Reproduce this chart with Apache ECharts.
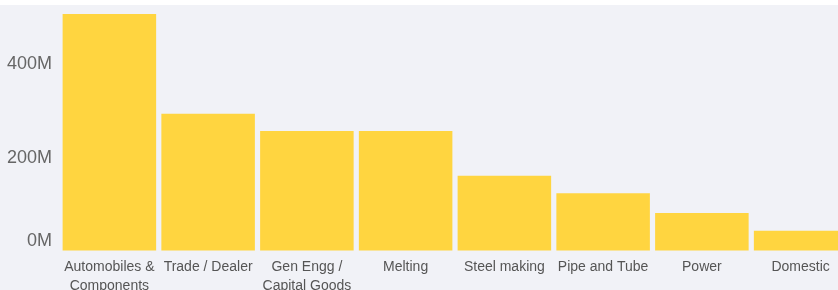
<!DOCTYPE html>
<html>
<head>
<meta charset="utf-8">
<script src="https://cdn.jsdelivr.net/npm/echarts@6/dist/echarts.min.js"></script>
<style>
  html, body { margin: 0; padding: 0; overflow: hidden; background: #fff; }
  #chart {
    width: 850px;
    height: 290px;
    background: linear-gradient(#ffffff 0, #ffffff 5px, #f1f2f7 5px);
  }
</style>
</head>
<body>
<div id="chart"></div>
<script>
// data
const categories = ['Automobiles &\nComponents', 'Trade / Dealer', 'Gen Engg /\nCapital Goods', 'Melting',
  'Steel making', 'Pipe and Tube', 'Power', 'Domestic'];
const values = [503e6, 291e6, 254e6, 254e6, 159e6, 122e6, 80e6, 42e6];

const chart = echarts.init(document.getElementById('chart'));
const option = {
  backgroundColor: 'transparent',
  grid: {
    left: 60,
    right: 0,
    top: 6,
    bottom: 39.5,
    outerBoundsMode: 'none',
    containLabel: false,
  },
  xAxis: {
    type: 'category',
    data: categories,
    axisLine: { show: false },
    axisTick: { show: false },
    axisLabel: {
      interval: 0,
      margin: 7,
      color: '#555',
      fontSize: 14,
      lineHeight: 19,
      fontFamily: 'Liberation Sans, Arial, sans-serif',
    },
  },
  yAxis: {
    type: 'value',
    min: 0,
    max: 520e6,
    interval: 200e6,
    axisLine: { show: false },
    axisTick: { show: false },
    splitLine: { show: false },
    axisLabel: {
      margin: 8,
      color: '#666',
      fontSize: 18,
      padding: [4, 0, 0, 0],
      fontFamily: 'Liberation Sans, Arial, sans-serif',
      showMaxLabel: false,
      // zero label sits a bit above the baseline
      formatter: (v) => (v === 0 ? '{z|0M}' : v / 1e6 + 'M'),
      rich: {
        z: {
          fontSize: 18,
          color: '#666',
          fontFamily: 'Liberation Sans, Arial, sans-serif',
          padding: [0, 0, 22, 0],
        },
      },
    },
  },
  series: [
    {
      type: 'bar',
      data: values,
      barCategoryGap: '5.3%',
      itemStyle: { color: '#ffd540' },
      animation: false,
    },
  ],
};
chart.setOption(option);
</script>
</body>
</html>
